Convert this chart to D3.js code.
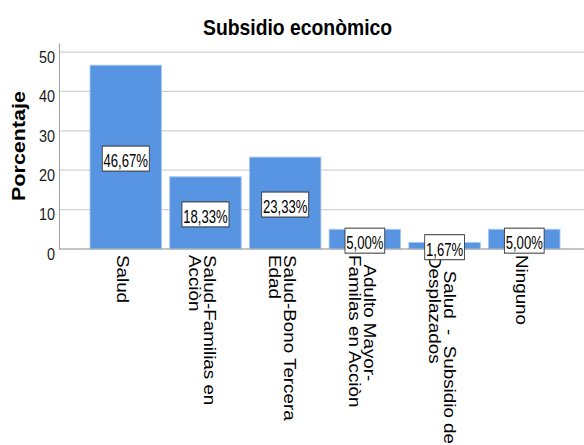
<!DOCTYPE html>
<html><head><meta charset="utf-8">
<script src="https://cdn.jsdelivr.net/npm/d3@7"></script>
<style>
body{margin:0;background:#fff}
svg text{white-space:pre}
</style>
</head><body>
<svg id="chart" width="584" height="445"></svg>
<script>
// ---- data ----
const categories = [
  "Salud",
  "Salud-Familias en\nAcciòn",
  "Salud-Bono Tercera\nEdad",
  "  Adulto Mayor-\nFamilas en Acciòn",
  "   Salud  -  Subsidio de\nDesplazados",
  "Ninguno"
];
const values = [46.67, 18.33, 23.33, 5.00, 1.67, 5.00];
const yTicks = [0, 10, 20, 30, 40, 50];
const titleText = "Subsidio econòmico";
const yTitle = "Porcentaje";

// ---- layout ----
const SX = 0.86;               // horizontal compression of the original picture
const NARROW = 0.82;           // narrow face used for the data labels
const W = 584 / SX;
const svg = d3.select("#chart");
svg.append("rect").attr("width", 584).attr("height", 445).attr("fill", "#fff");
const g = svg.append("g").attr("transform", `scale(${SX},1)`);

const x0 = 59 / SX;
const x = d3.scaleBand().domain(categories).range([x0, W])
  .paddingInner(0.103).paddingOuter(0.345).align(0.564);
const y = d3.scaleLinear().domain([0, 52.3]).range([249, 43]);

const fmtLocale = d3.formatLocale({decimal: ",", thousands: ".", grouping: [3], currency: ["", ""]});
const fmt = fmtLocale.format(".2f");

// grid
g.append("g").selectAll("line").data(yTicks).join("line")
  .attr("x1", x0).attr("x2", W)
  .attr("y1", d => y(d)).attr("y2", d => y(d))
  .attr("stroke", "#d2d2d2").attr("stroke-width", 1.2);

// bars
g.append("g").selectAll("rect").data(values).join("rect")
  .attr("x", (d, i) => x(categories[i]))
  .attr("width", x.bandwidth())
  .attr("y", d => y(d))
  .attr("height", d => y(0) - y(d))
  .attr("fill", "#5794e2")
  .attr("stroke", "#a9c8f1").attr("stroke-width", 1);

// y axis
const yAxis = g.append("g").attr("transform", `translate(${x0},0)`)
  .call(d3.axisLeft(y).tickValues(yTicks).tickSize(0).tickSizeOuter(0).tickPadding(4.6).tickFormat(d3.format("d")));
yAxis.select(".domain").attr("stroke", "#a0a0a0").attr("stroke-width", 1.2);
yAxis.selectAll("text").attr("dy", null).attr("y", 10.3)
  .attr("font-family", "'Liberation Sans', Arial, sans-serif").attr("font-size", 16.8).attr("fill", "#1a1a1a");

// x axis
const xAxis = g.append("g").attr("transform", `translate(0,${y(0)})`)
  .call(d3.axisBottom(x).tickSize(0).tickSizeOuter(0).tickFormat(""));
xAxis.select(".domain").attr("stroke", "#a0a0a0").attr("stroke-width", 1.2).attr("d", `M${x0},0H${W}`);

// category labels (rotated)
const catG = g.append("g").selectAll("text").data(categories).join("text")
  .attr("transform", d => `translate(${x(d) + x.bandwidth() / 2},255) rotate(90)`)
  .attr("font-family", "'Liberation Sans', Arial, sans-serif").attr("font-size", 18.8).attr("fill", "#000");
catG.each(function(d) {
  const lines = d.split("\n");
  const n = lines.length;
  d3.select(this).selectAll("tspan").data(lines).join("tspan")
    .attr("x", 0)
    .attr("y", (l, i) => 9.9 - (n - 1) * 8.7 + i * 17.4)
    .text(l => l);
});

// data labels
const lab = g.append("g").selectAll("g").data(values).join("g");
lab.each(function(v, i) {
  const cx = x(categories[i]) + x.bandwidth() / 2;
  const cy = y(v / 2) + 1.5;
  const gg = d3.select(this);
  const r = gg.append("rect");
  const t = gg.append("text")
    .attr("transform", `translate(${cx},${cy + 8.5}) scale(${NARROW},1)`)
    .attr("text-anchor", "middle")
    .attr("font-family", "'Liberation Sans', Arial, sans-serif")
    .attr("font-size", 18.6).attr("fill", "#000")
    .text(fmt(v) + "%");
  const w = t.node().getComputedTextLength() * NARROW + 3;
  r.attr("x", cx - w / 2).attr("y", cy - 12.5).attr("width", w).attr("height", 25)
    .attr("fill", "#fff").attr("stroke", "#333").attr("stroke-width", 1);
});

// titles
g.append("text").attr("x", 346).attr("y", 35).attr("text-anchor", "middle")
  .attr("font-family", "'Liberation Sans', Arial, sans-serif").attr("font-weight", "bold")
  .attr("font-size", 22.5).attr("fill", "#000").text(titleText);

g.append("text").attr("transform", `translate(${25 / SX},146) rotate(-90)`).attr("text-anchor", "middle")
  .attr("font-family", "'Liberation Sans', Arial, sans-serif").attr("font-weight", "bold")
  .attr("font-size", 21.5).attr("fill", "#000").text(yTitle);
</script>
</body></html>
